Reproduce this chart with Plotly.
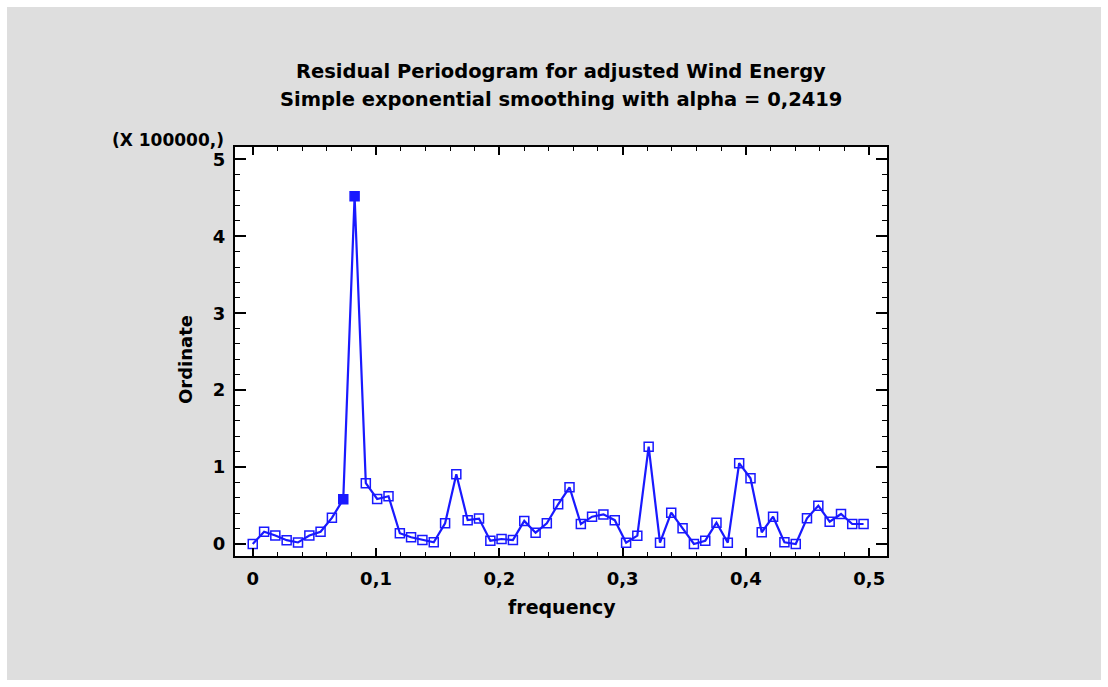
import plotly.graph_objects as go

# Periodogram frequencies (k/109) and ordinates (units of 100000)
frequency = [0.0, 0.0092, 0.0183, 0.0275, 0.0367, 0.0459, 0.0550, 0.0642, 0.0734, 0.0826,
             0.0917, 0.1009, 0.1101, 0.1193, 0.1284, 0.1376, 0.1468, 0.1560, 0.1651, 0.1743,
             0.1835, 0.1927, 0.2018, 0.2110, 0.2202, 0.2294, 0.2385, 0.2477, 0.2569, 0.2661,
             0.2752, 0.2844, 0.2936, 0.3028, 0.3119, 0.3211, 0.3303, 0.3394, 0.3486, 0.3578,
             0.3670, 0.3761, 0.3853, 0.3945, 0.4037, 0.4128, 0.4220, 0.4312, 0.4404, 0.4495,
             0.4587, 0.4679, 0.4771, 0.4862, 0.4954]
ordinate = [0.00, 0.16, 0.11, 0.05, 0.02, 0.11, 0.16, 0.34, 0.58, 4.52,
            0.79, 0.585, 0.62, 0.14, 0.087, 0.052, 0.022, 0.27, 0.906, 0.31,
            0.33, 0.043, 0.065, 0.052, 0.30, 0.147, 0.27, 0.516, 0.737, 0.26,
            0.355, 0.385, 0.31, 0.017, 0.108, 1.265, 0.017, 0.407, 0.204, 0.0,
            0.043, 0.277, 0.017, 1.05, 0.854, 0.152, 0.355, 0.022, 0.0, 0.334,
            0.498, 0.29, 0.39, 0.26, 0.26]
highlighted = [8, 9]  # indices drawn with filled markers

title_line1 = "Residual Periodogram for adjusted Wind Energy"
title_line2 = "Simple exponential smoothing with alpha = 0,2419"
x_title = "frequency"
y_title = "Ordinate"
scale_label = "(X 100000,)"

W, H = 1108, 687
L, R, T, B = 235, 887, 147, 556
pw, ph = R - L, B - T

def px(x):
    return (x - L) / pw

def py(y):
    return (B - y) / ph

BLUE = "rgb(25,25,255)"
FONT = "DejaVu Sans"

symbols = ["square" if i in highlighted else "square-open" for i in range(len(ordinate))]

fig = go.Figure()
fig.add_trace(go.Scatter(
    x=frequency, y=ordinate, mode="lines+markers",
    line=dict(color=BLUE, width=2.2),
    marker=dict(symbol=symbols, size=9, color=BLUE, line=dict(color=BLUE, width=1.5)),
    showlegend=False, hoverinfo="x+y",
))

axis_common = dict(
    showgrid=False, zeroline=False, showline=True, linecolor="black", linewidth=2,
    mirror="ticks", ticks="inside", tickcolor="black",
    tickfont=dict(family=FONT, size=18, color="black", weight="bold"),
)

fig.update_xaxes(range=[-0.0144, 0.5144], tick0=0, dtick=0.1, ticklen=8, tickwidth=1.5,
                 minor=dict(dtick=0.02, ticks="inside", ticklen=4, tickcolor="black", tickwidth=1),
                 ticklabelstandoff=5,
                 **axis_common)
fig.update_yaxes(range=[-0.156, 5.16], tick0=0, dtick=1, ticklen=11, tickwidth=1.5,
                 minor=dict(dtick=0.2, ticks="inside", ticklen=5, tickcolor="black", tickwidth=1),
                 ticklabelstandoff=4,
                 **axis_common)

shapes = [
    dict(type="rect", xref="paper", yref="paper", x0=px(7), x1=px(W - 7), y0=py(H - 7), y1=py(7),
         fillcolor="rgb(222,222,222)", line=dict(width=0), layer="below"),
    dict(type="rect", xref="paper", yref="paper", x0=0, x1=1, y0=0, y1=1,
         fillcolor="white", line=dict(width=0), layer="below"),
]

tfont = dict(family=FONT, size=19.5, color="black", weight="bold")
afont = dict(family=FONT, size=19, color="black", weight="bold")
annotations = [
    dict(text=title_line1, x=0.5, y=py(71), xref="paper", yref="paper", showarrow=False,
         xanchor="center", yanchor="middle", font=tfont),
    dict(text=title_line2, x=0.5, y=py(100), xref="paper", yref="paper", showarrow=False,
         xanchor="center", yanchor="middle", font=tfont),
    dict(text=scale_label, x=px(226), y=py(140), xref="paper", yref="paper", showarrow=False,
         xanchor="right", yanchor="middle", font=dict(family=FONT, size=17, color="black", weight="bold")),
    dict(text=x_title, x=px(562), y=py(607), xref="paper", yref="paper", showarrow=False,
         xanchor="center", yanchor="middle", font=afont),
    dict(text=y_title, x=px(185), y=py(360), xref="paper", yref="paper", showarrow=False,
         xanchor="center", yanchor="middle", textangle=-90, font=dict(family=FONT, size=18, color="black", weight="bold")),
]

fig.update_layout(
    width=W, height=H,
    margin=dict(l=L, r=W - R, t=T, b=H - B, autoexpand=False),
    paper_bgcolor="white", plot_bgcolor="white",
    separators=",.",
    shapes=shapes, annotations=annotations,
    font=dict(family=FONT, color="black"),
)

fig.write_html("out.html")
